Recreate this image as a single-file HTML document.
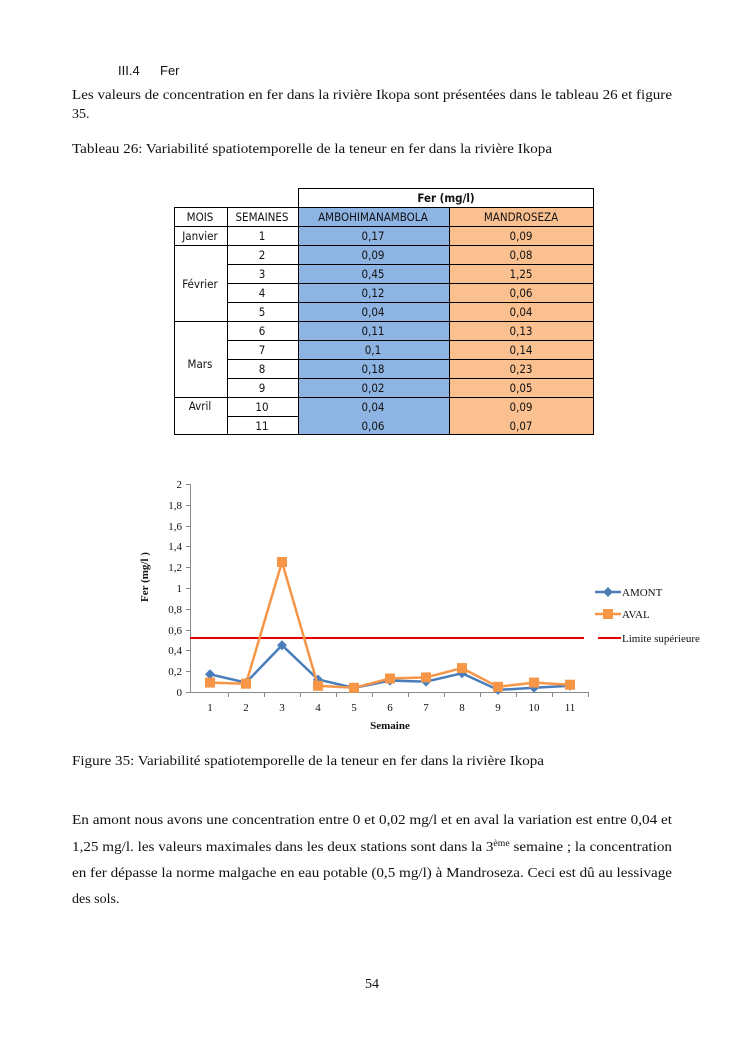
<!DOCTYPE html>
<html><head><meta charset="utf-8"><style>
html,body{margin:0;padding:0;background:#fff}
svg{display:block}
.s{font-family:"Liberation Serif",serif;font-size:14px;fill:#111}
.c{font-family:"DejaVu Sans Condensed","Liberation Sans",sans-serif;font-size:11.5px;fill:#111}
.t{font-family:"Liberation Serif",serif;font-size:11px;fill:#111}
</style></head><body>
<svg width="745" height="1053" xmlns="http://www.w3.org/2000/svg">
<rect width="745" height="1053" fill="#fff"/>
<text x="118" y="75" font-family="Liberation Sans,sans-serif" font-size="13" fill="#111">III.4</text>
<text x="160" y="75" font-family="Liberation Sans,sans-serif" font-size="13" fill="#111">Fer</text>
<text class="s" x="72" y="99" textLength="600" lengthAdjust="spacingAndGlyphs">Les valeurs de concentration en fer dans  la rivière Ikopa sont présentées dans le tableau 26 et figure</text>
<text class="s" x="72" y="118">35.</text>
<text class="s" x="72" y="153" textLength="480" lengthAdjust="spacingAndGlyphs">Tableau 26: Variabilité spatiotemporelle de la teneur en fer dans la rivière Ikopa</text>

<!-- table -->
<rect x="298" y="207" width="151" height="228" fill="#8eb4e3"/>
<rect x="449" y="207" width="145" height="228" fill="#fac090"/>
<g stroke="#000" stroke-width="1" fill="none">
<rect x="298.5" y="188.5" width="295" height="246"/>
<line x1="174.5" y1="207.5" x2="594" y2="207.5"/>
<line x1="174.5" y1="226.5" x2="594" y2="226.5"/>
<line x1="174.5" y1="245.5" x2="594" y2="245.5"/>
<line x1="227" y1="264.5" x2="594" y2="264.5"/>
<line x1="227" y1="283.5" x2="594" y2="283.5"/>
<line x1="227" y1="302.5" x2="594" y2="302.5"/>
<line x1="174.5" y1="321.5" x2="594" y2="321.5"/>
<line x1="227" y1="340.5" x2="594" y2="340.5"/>
<line x1="227" y1="359.5" x2="594" y2="359.5"/>
<line x1="227" y1="378.5" x2="594" y2="378.5"/>
<line x1="174.5" y1="397.5" x2="594" y2="397.5"/>
<line x1="227" y1="416.5" x2="298" y2="416.5"/>
<line x1="174.5" y1="434.5" x2="298" y2="434.5"/>
<line x1="174.5" y1="207" x2="174.5" y2="435"/>
<line x1="227.5" y1="207" x2="227.5" y2="435"/>
<line x1="449.5" y1="207" x2="449.5" y2="435"/>
</g>
<g class="c" text-anchor="middle">
<text x="446" y="202" font-weight="bold">Fer (mg/l)</text>
<text x="200" y="221">MOIS</text><text x="262" y="221">SEMAINES</text>
<text x="373" y="221">AMBOHIMANAMBOLA</text><text x="521" y="221">MANDROSEZA</text>
<text x="200" y="240">Janvier</text>
<text x="200" y="288">Février</text>
<text x="200" y="368">Mars</text>
<text x="200" y="410">Avril</text>
<text x="262" y="240">1</text><text x="373" y="240">0,17</text><text x="521" y="240">0,09</text>
<text x="262" y="259">2</text><text x="373" y="259">0,09</text><text x="521" y="259">0,08</text>
<text x="262" y="278">3</text><text x="373" y="278">0,45</text><text x="521" y="278">1,25</text>
<text x="262" y="297">4</text><text x="373" y="297">0,12</text><text x="521" y="297">0,06</text>
<text x="262" y="316">5</text><text x="373" y="316">0,04</text><text x="521" y="316">0,04</text>
<text x="262" y="335">6</text><text x="373" y="335">0,11</text><text x="521" y="335">0,13</text>
<text x="262" y="354">7</text><text x="373" y="354">0,1</text><text x="521" y="354">0,14</text>
<text x="262" y="373">8</text><text x="373" y="373">0,18</text><text x="521" y="373">0,23</text>
<text x="262" y="392">9</text><text x="373" y="392">0,02</text><text x="521" y="392">0,05</text>
<text x="262" y="411">10</text><text x="373" y="411">0,04</text><text x="521" y="411">0,09</text>
<text x="262" y="430">11</text><text x="373" y="430">0,06</text><text x="521" y="430">0,07</text>
</g>

<!-- chart -->
<g stroke="#888" stroke-width="1">
<line x1="190.5" y1="484" x2="190.5" y2="692"/>
<line x1="190" y1="692.5" x2="588" y2="692.5"/>
<line x1="186" y1="484.5" x2="190" y2="484.5"/><line x1="186" y1="505.5" x2="190" y2="505.5"/><line x1="186" y1="526.5" x2="190" y2="526.5"/><line x1="186" y1="546.5" x2="190" y2="546.5"/><line x1="186" y1="567.5" x2="190" y2="567.5"/><line x1="186" y1="588.5" x2="190" y2="588.5"/><line x1="186" y1="609.5" x2="190" y2="609.5"/><line x1="186" y1="630.5" x2="190" y2="630.5"/><line x1="186" y1="650.5" x2="190" y2="650.5"/><line x1="186" y1="671.5" x2="190" y2="671.5"/><line x1="186" y1="692.5" x2="190" y2="692.5"/>
<line x1="228.5" y1="692" x2="228.5" y2="697"/><line x1="264.5" y1="692" x2="264.5" y2="697"/><line x1="300.5" y1="692" x2="300.5" y2="697"/><line x1="336.5" y1="692" x2="336.5" y2="697"/><line x1="372.5" y1="692" x2="372.5" y2="697"/><line x1="408.5" y1="692" x2="408.5" y2="697"/><line x1="444.5" y1="692" x2="444.5" y2="697"/><line x1="480.5" y1="692" x2="480.5" y2="697"/><line x1="516.5" y1="692" x2="516.5" y2="697"/><line x1="552.5" y1="692" x2="552.5" y2="697"/><line x1="588.5" y1="692" x2="588.5" y2="697"/>
</g>
<g class="t" text-anchor="end">
<text x="182" y="488">2</text><text x="182" y="509">1,8</text><text x="182" y="530">1,6</text><text x="182" y="550">1,4</text><text x="182" y="571">1,2</text><text x="182" y="592">1</text><text x="182" y="613">0,8</text><text x="182" y="634">0,6</text><text x="182" y="654">0,4</text><text x="182" y="675">0,2</text><text x="182" y="696">0</text>
</g>
<g class="t" text-anchor="middle">
<text x="210" y="711">1</text><text x="246" y="711">2</text><text x="282" y="711">3</text><text x="318" y="711">4</text><text x="354" y="711">5</text><text x="390" y="711">6</text><text x="426" y="711">7</text><text x="462" y="711">8</text><text x="498" y="711">9</text><text x="534" y="711">10</text><text x="570" y="711">11</text>
<text x="390" y="729" font-weight="bold">Semaine</text>
</g>
<text class="t" font-weight="bold" transform="translate(148,577) rotate(-90)" text-anchor="middle">Fer  (mg/l )</text>
<line x1="190" y1="638" x2="584" y2="638" stroke="#e00" stroke-width="2"/>
<polyline fill="none" stroke="#4a7ebb" stroke-width="2.5" points="210,674.3 246,682.6 282,645.2 318,679.5 354,687.8 390,680.6 426,681.6 462,673.3 498,689.9 534,687.8 570,685.8"/>
<g fill="#4a7ebb">
<path d="M210,669.3l5,5-5,5-5-5z"/><path d="M246,677.6l5,5-5,5-5-5z"/><path d="M282,640.2l5,5-5,5-5-5z"/><path d="M318,674.5l5,5-5,5-5-5z"/><path d="M354,682.8l5,5-5,5-5-5z"/><path d="M390,675.6l5,5-5,5-5-5z"/><path d="M426,676.6l5,5-5,5-5-5z"/><path d="M462,668.3l5,5-5,5-5-5z"/><path d="M498,684.9l5,5-5,5-5-5z"/><path d="M534,682.8l5,5-5,5-5-5z"/><path d="M570,680.8l5,5-5,5-5-5z"/>
</g>
<polyline fill="none" stroke="#f79646" stroke-width="2.5" points="210,682.6 246,683.7 282,562 318,685.8 354,687.8 390,678.5 426,677.4 462,668.1 498,686.8 534,682.6 570,684.7"/>
<g fill="#f79646">
<rect x="205" y="677.6" width="10" height="10"/><rect x="241" y="678.7" width="10" height="10"/><rect x="277" y="557" width="10" height="10"/><rect x="313" y="680.8" width="10" height="10"/><rect x="349" y="682.8" width="10" height="10"/><rect x="385" y="673.5" width="10" height="10"/><rect x="421" y="672.4" width="10" height="10"/><rect x="457" y="663.1" width="10" height="10"/><rect x="493" y="681.8" width="10" height="10"/><rect x="529" y="677.6" width="10" height="10"/><rect x="565" y="679.7" width="10" height="10"/>
</g>
<!-- legend -->
<line x1="595" y1="592" x2="621" y2="592" stroke="#4a7ebb" stroke-width="2.5"/><path d="M608,587l5,5-5,5-5-5z" fill="#4a7ebb"/>
<text class="t" x="622" y="596" font-size="12">AMONT</text>
<line x1="595" y1="614" x2="621" y2="614" stroke="#f79646" stroke-width="2.5"/><rect x="603" y="609" width="10" height="10" fill="#f79646"/>
<text class="t" x="622" y="618" font-size="12">AVAL</text>
<line x1="598" y1="638" x2="621" y2="638" stroke="#e00" stroke-width="2"/>
<text class="t" x="622" y="642" font-size="12">Limite supérieure</text>

<text class="s" x="72" y="765" textLength="472" lengthAdjust="spacingAndGlyphs">Figure 35: Variabilité spatiotemporelle de la teneur en fer dans la rivière Ikopa</text>
<text class="s" x="72" y="824" textLength="600" lengthAdjust="spacingAndGlyphs">En amont nous avons une concentration entre 0 et 0,02 mg/l et en aval la variation est entre 0,04 et</text>
<text class="s" x="72" y="851" textLength="600" lengthAdjust="spacingAndGlyphs">1,25 mg/l. les valeurs maximales dans les deux stations sont dans la  3<tspan font-size="9" dy="-5">ème</tspan><tspan dy="5"> semaine ; la concentration</tspan></text>
<text class="s" x="72" y="877" textLength="600" lengthAdjust="spacingAndGlyphs">en fer dépasse la norme malgache en eau potable (0,5 mg/l)  à Mandroseza. Ceci est dû au lessivage</text>
<text class="s" x="72" y="903">des sols.</text>
<text class="s" x="372" y="988" text-anchor="middle" font-size="13">54</text>
</svg>
</body></html>
